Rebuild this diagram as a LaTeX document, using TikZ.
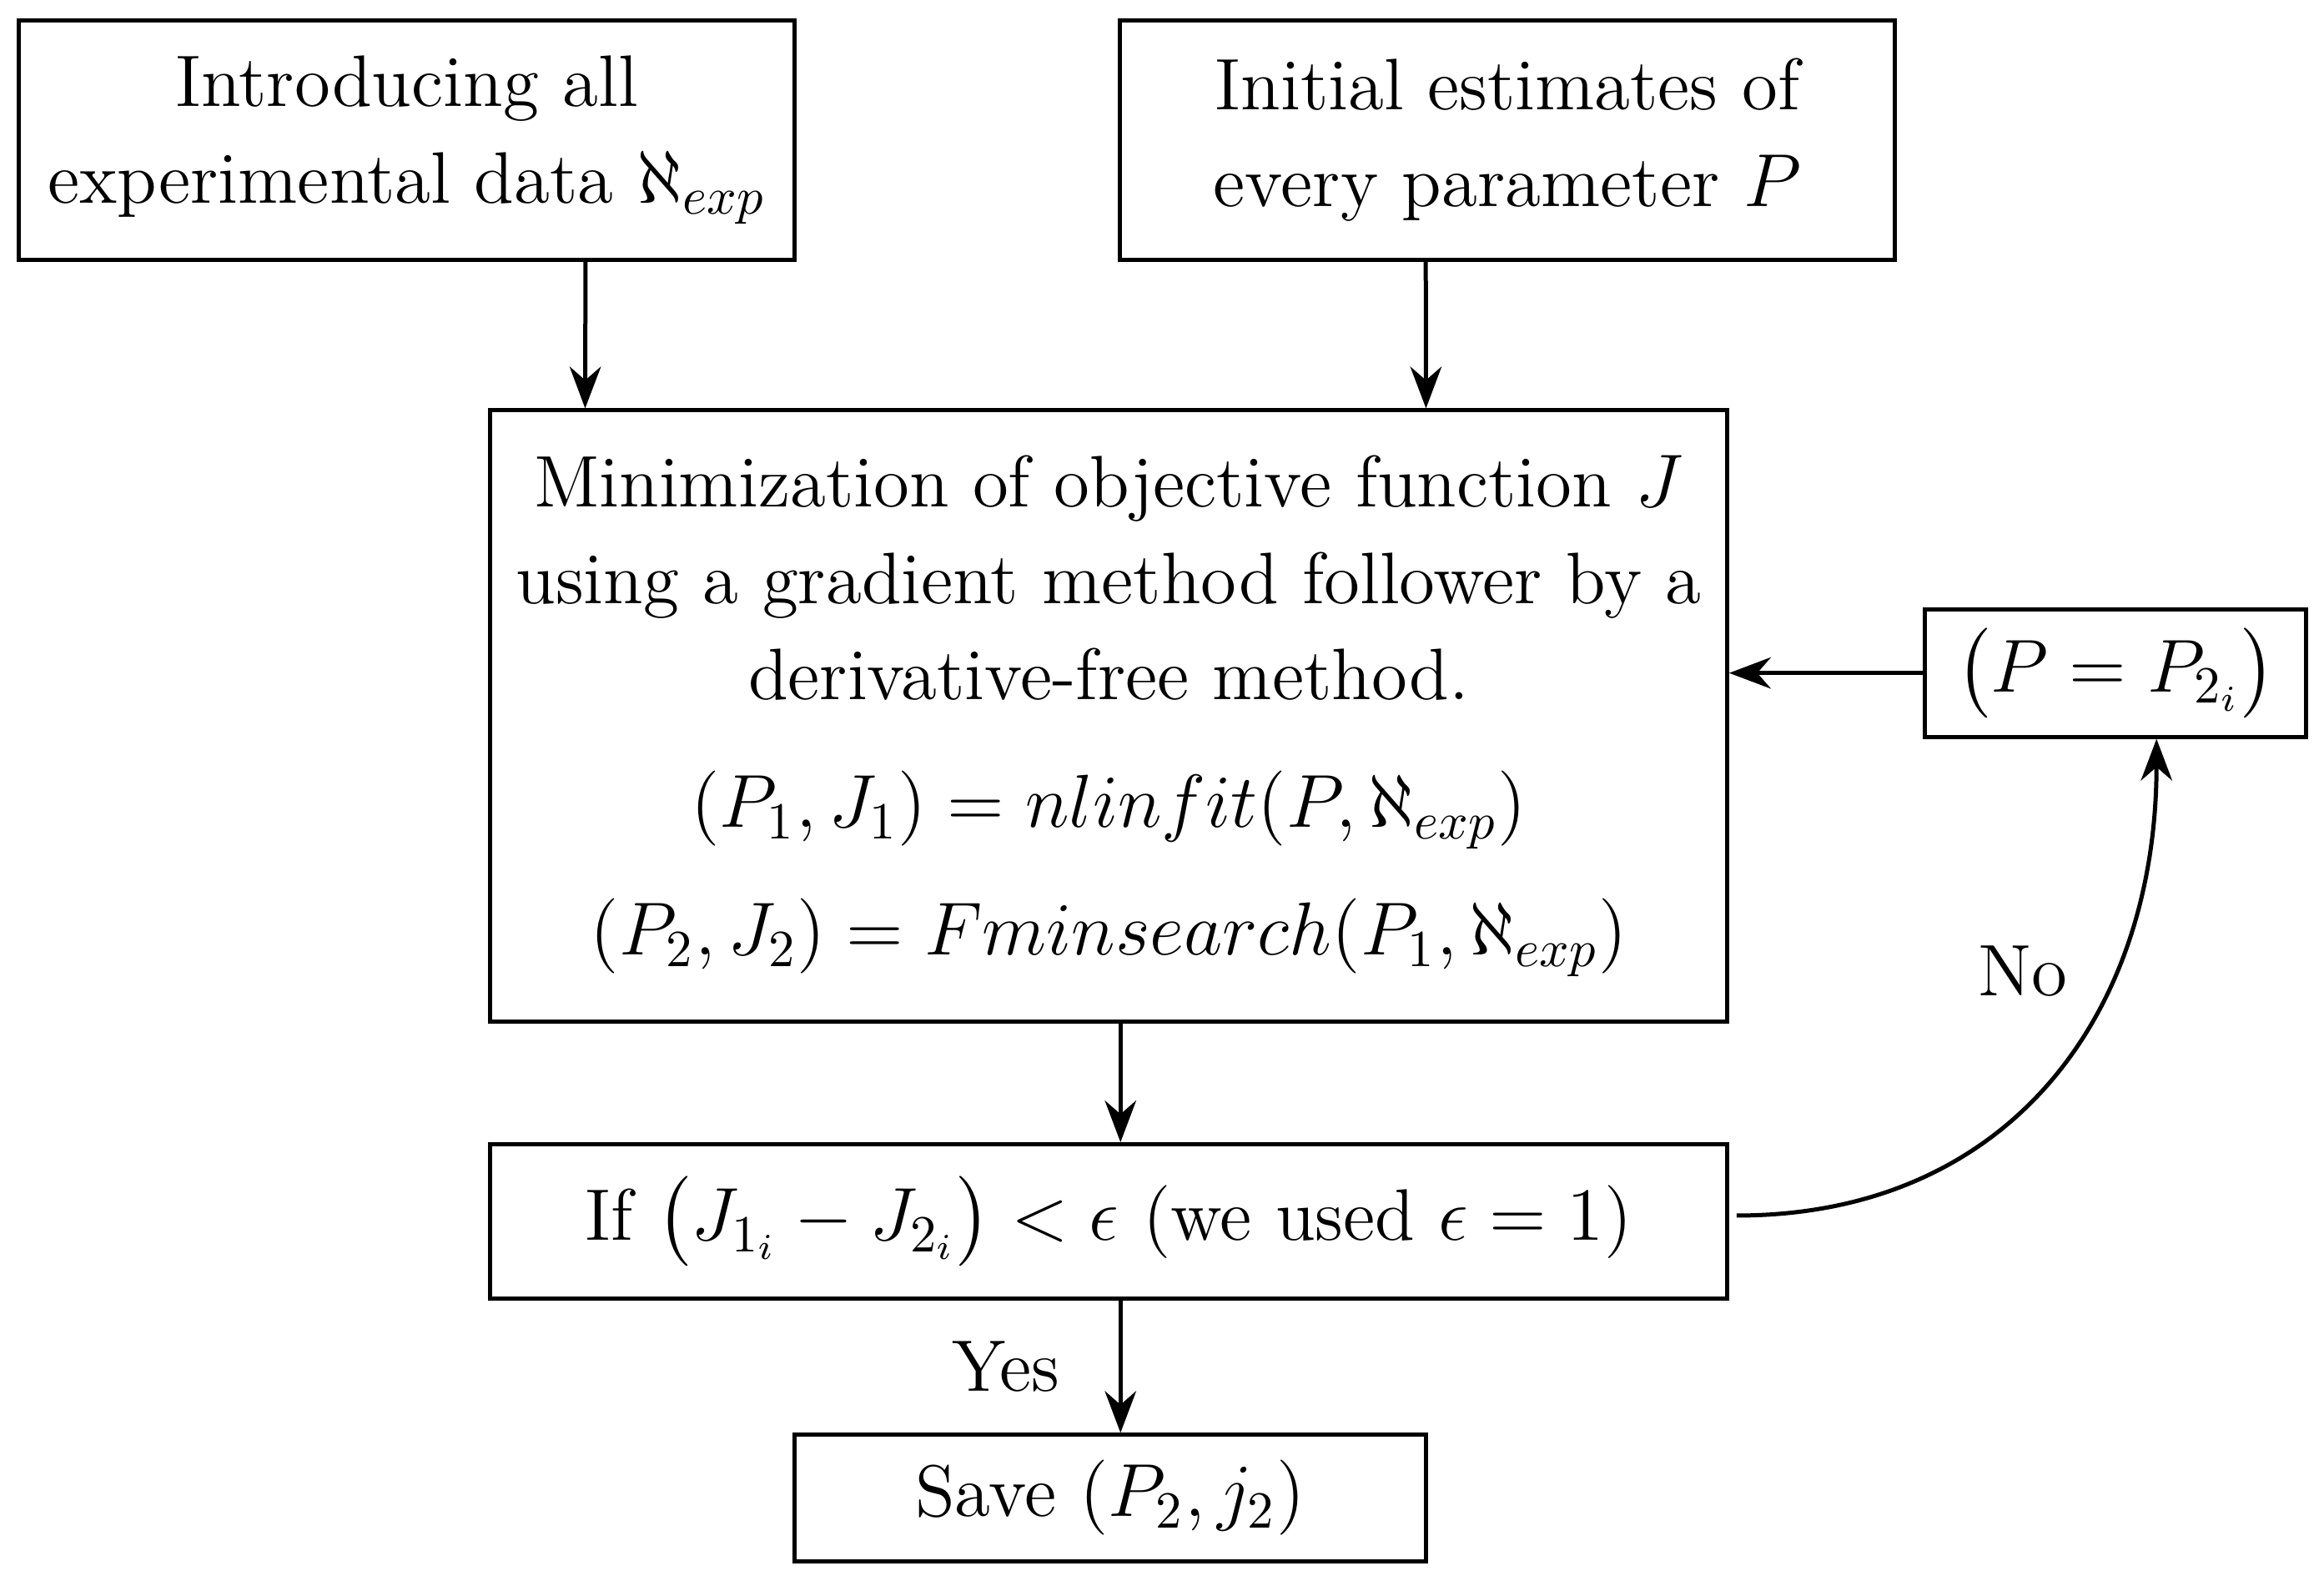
\documentclass[tikz,border=0pt]{standalone}
\usepackage{amsmath}
\usetikzlibrary{arrows.meta}

\tikzset{
  box/.style={draw, thick, inner sep=0pt, align=center,
    font=\fontsize{14}{18.5}\selectfont},
  flow/.style={-{Stealth[length=8pt,width=6pt]}, thick}
}

\begin{document}
\begin{tikzpicture}[x=0.01cm, y=-0.01cm]
  \useasboundingbox (0,0) rectangle (1568,1066);

  \node[box, minimum width=5.23cm, minimum height=1.61cm] (data) at (274.5,94.5)
    {Introducing all\\ experimental data $\aleph_{exp}$};
  \node[box, minimum width=5.22cm, minimum height=1.61cm] (init) at (1017,94.5)
    {Initial estimates of\\ every parameter $P$};
  \node[box, minimum width=8.34cm, minimum height=4.12cm] (mini) at (748,483)
    {Minimization of objective function $J$\\
     using a gradient method follower by a\\
     derivative-free method.\\[6pt]
     $(P_1,J_1)=nlinfit(P,\aleph_{exp})$\\[6pt]
     $(P_2,J_2)=Fminsearch(P_1,\aleph_{exp})$};
  \node[box, minimum width=2.57cm, minimum height=0.86cm] (upd) at (1427.5,454)
    {$\bigl(P=P_{2_i}\bigr)$};
  \node[box, minimum width=8.34cm, minimum height=1.04cm] (test) at (748,824)
    {If $\bigl(J_{1_i}-J_{2_i}\bigr)<\epsilon$ (we used $\epsilon=1$)};
  \node[box, minimum width=4.26cm, minimum height=0.85cm] (save) at (749,1010.5)
    {Save $(P_2,j_2)$};

  \draw[flow] ([xshift=1.205cm]data.south) -- ([xshift=-3.53cm]mini.north);
  \draw[flow] ([xshift=-0.55cm]init.south) -- ([xshift=2.14cm]mini.north);
  \draw[flow] ([xshift=0.08cm]mini.south) -- ([xshift=0.08cm]test.north);
  \draw[flow] ([xshift=0.08cm]test.south) --
    node[left, font=\fontsize{14}{18.5}\selectfont, xshift=-8pt] {Yes}
    ([xshift=0.07cm]save.north);
  \draw[flow] (upd.west) -- (upd.west -| mini.east);
  \draw[flow] ([xshift=0.05cm,yshift=0.04cm]test.east) to[out=0, in=-90, looseness=1.1]
    ([xshift=0.275cm]upd.south);
  \node[font=\fontsize{14}{18.5}\selectfont] (no) at (1365,655) {No};
\end{tikzpicture}
\end{document}
